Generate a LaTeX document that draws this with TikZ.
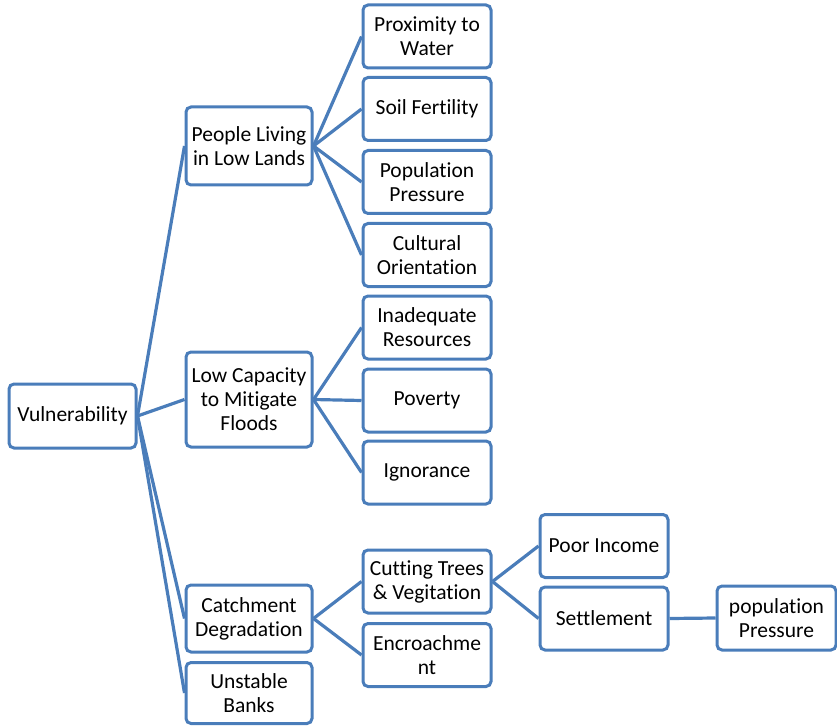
\documentclass[tikz,border=0pt]{standalone}
\usepackage{fontspec}
\setmainfont[RawFeature={-liga,-calt,-clig,-dlig}]{Carlito}
\definecolor{edgeblue}{HTML}{4A7DBA}
\begin{document}
\begin{tikzpicture}[x=1pt,y=-1pt,
  box/.style={draw=edgeblue, line width=3pt, rounded corners=5pt, fill=white,
    align=center, font=\fontsize{21.5}{24}\selectfont, inner sep=0pt,
    minimum width=126pt, minimum height=63pt},
  link/.style={draw=edgeblue, line width=3.2pt}]
\useasboundingbox (0,0) rectangle (837,727);
% first level
\node[box, minimum width=127pt, minimum height=64pt] (vul) at (72.5,416) {Vulnerability};
\node[box, minimum height=78pt] (ppl) at (249,146) {People Living\\in Low Lands};
\node[box, minimum height=95pt] (low) at (249,399.5) {Low Capacity\\to Mitigate\\Floods};
\node[box, minimum height=67pt] (cat) at (249,618.5) {Catchment\\Degradation};
\node[box, minimum height=61pt] (uns) at (249,693) {Unstable\\Banks};
% second level
\node[box, minimum width=128pt] (prox) at (427,36.5) {Proximity to\\Water};
\node[box, minimum width=128pt] (soil) at (427,109) {Soil Fertility};
\node[box, minimum width=128pt] (pop) at (427,182) {Population\\Pressure};
\node[box, minimum width=128pt] (cult) at (427,255) {Cultural\\Orientation};
\node[box, minimum width=128pt] (inad) at (427,327.5) {Inadequate\\Resources};
\node[box, minimum width=128pt] (pov) at (427,400.5) {Poverty};
\node[box, minimum width=128pt] (ign) at (427,472.5) {Ignorance};
\node[box, minimum width=128pt] (cut) at (427,581.5) {Cutting Trees\\\& Vegitation};
\node[box, minimum width=128pt] (enc) at (427,655) {Encroachme\\nt};
% third and fourth level
\node[box, minimum width=128pt] (poor) at (604,546) {Poor Income};
\node[box, minimum width=128pt] (sett) at (604,618.5) {Settlement};
\node[box, minimum width=119pt, minimum height=64pt] (pop2) at (776.5,618) {population\\Pressure};
% connectors
\foreach \c in {ppl,low,cat,uns} \draw[link] (vul.east) -- (\c.west);
\foreach \c in {prox,soil,pop,cult} \draw[link] (ppl.east) -- (\c.west);
\foreach \c in {inad,pov,ign} \draw[link] (low.east) -- (\c.west);
\foreach \c in {cut,enc} \draw[link] (cat.east) -- (\c.west);
\foreach \c in {poor,sett} \draw[link] (cut.east) -- (\c.west);
\draw[link] (sett.east) -- (pop2.west);
\end{tikzpicture}
\end{document}
